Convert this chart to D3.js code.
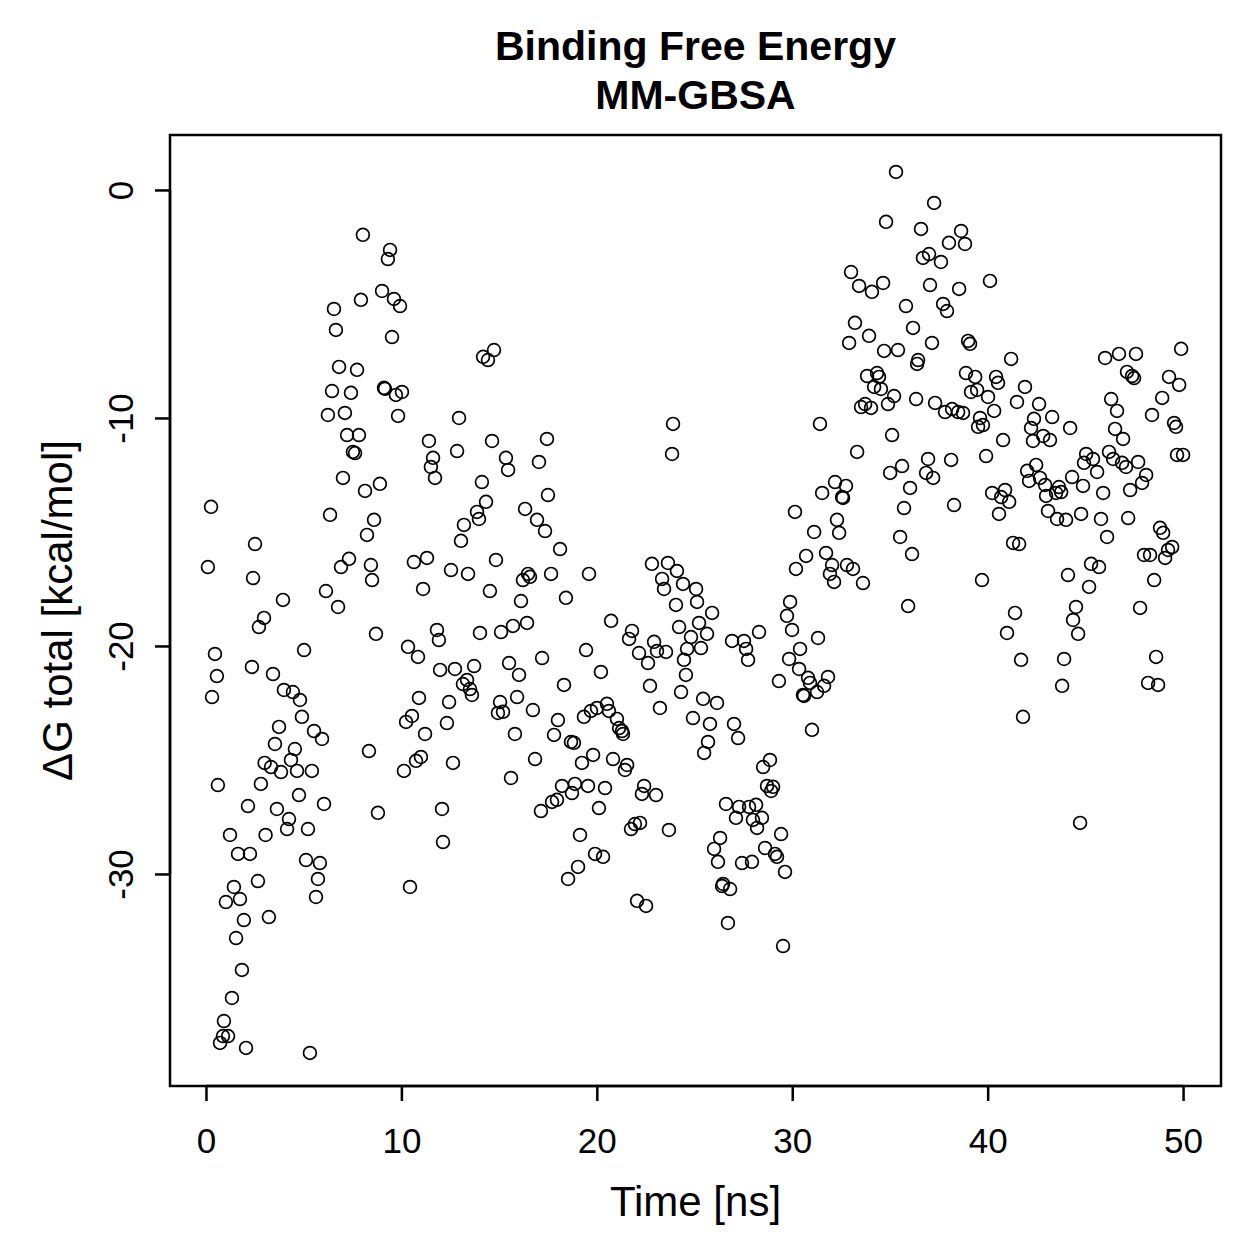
<!DOCTYPE html>
<html><head><meta charset="utf-8">
<script src="https://cdn.jsdelivr.net/npm/d3@7"></script>
<style>body{margin:0;background:#fff}svg{display:block}text{font-family:"Liberation Sans",Arial,Helvetica,sans-serif}</style>
</head><body><svg id="c" width="1259" height="1259"></svg>
<script>
const titleLines = ["Binding Free Energy", "MM-GBSA"];
const xLabel = "Time [ns]";
const yLabel = "ΔG total [kcal/mol]";
const xTicks = [0, 10, 20, 30, 40, 50];
const yTicks = [0, -10, -20, -30];

const time = [
0.10,0.26,0.31,0.46,0.56,0.61,0.72,0.87,0.92,1.02,1.13,1.23,1.33,1.43,1.54,1.64,1.74,1.84,1.94,2.05,2.15,2.25,2.35,2.41,2.51,2.66,2.71,2.81,2.97,3.00,3.05,
3.22,3.33,3.43,3.53,3.63,3.74,3.84,3.94,3.99,4.15,4.25,4.35,4.45,4.55,4.66,4.76,4.81,4.91,5.02,5.12,5.22,5.32,5.42,5.53,5.63,5.73,5.83,5.94,6.04,6.14,6.24,6.35,
6.45,6.55,6.65,6.76,6.81,6.91,7.01,7.11,7.22,7.32,7.42,7.52,7.63,7.73,7.83,7.93,8.03,8.14,8.24,8.34,8.44,8.50,8.60,8.70,8.80,8.90,9.01,9.11,9.16,9.31,9.42,9.52,9.62,9.72,9.83,9.93,
10.03,10.13,10.24,10.34,10.44,10.54,10.64,10.75,10.85,10.90,11.00,11.11,11.21,11.31,11.41,11.51,11.62,11.72,11.82,11.92,11.98,12.08,12.13,12.33,12.44,12.54,12.64,12.74,12.85,12.95,
13.05,13.15,13.20,13.36,13.41,13.51,13.61,13.72,13.87,13.97,14.02,14.12,14.18,14.33,14.43,14.53,14.64,14.74,14.84,14.94,15.05,15.10,15.20,15.35,15.46,15.51,15.61,15.71,15.81,15.92,16.02,
16.12,16.22,16.33,16.43,16.48,16.58,16.73,16.84,16.94,17.04,17.14,17.20,17.35,17.45,17.50,17.66,17.71,17.81,17.96,18.01,18.12,18.22,18.32,18.42,18.53,18.68,18.73,18.83,18.88,19.04,19.14,19.24,19.34,19.45,19.55,19.60,
19.70,19.81,19.91,20.01,20.11,20.21,20.32,20.42,20.52,20.62,20.73,20.83,21.03,21.14,21.29,21.34,21.44,21.55,21.65,21.75,21.80,21.95,22.06,22.16,22.21,22.31,22.42,22.52,22.62,22.72,22.82,22.93,23.03,23.08,23.23,23.34,23.44,23.54,23.64,23.69,23.85,23.90,24.05,24.10,24.21,24.31,24.41,24.46,24.56,24.62,
24.82,24.92,25.08,25.13,25.23,25.33,25.44,25.49,25.64,25.69,25.79,25.90,26.00,26.15,26.20,26.31,26.41,26.46,26.61,26.71,26.82,26.92,27.02,27.12,27.23,27.28,27.43,27.53,27.64,27.74,27.79,27.94,27.99,28.15,28.20,28.30,28.45,28.51,28.61,28.71,28.86,28.92,29.02,29.12,29.22,29.32,
29.43,29.53,29.63,29.73,29.84,29.89,29.99,30.14,30.19,30.35,30.40,30.55,30.60,30.71,30.81,30.91,31.01,31.12,31.27,31.32,31.42,31.53,31.63,31.73,31.83,31.93,32.04,32.14,32.19,32.29,32.40,32.55,32.60,32.75,32.80,32.91,33.01,33.11,33.21,33.32,33.42,
33.52,33.62,33.73,33.83,33.93,34.03,34.08,34.19,34.34,34.44,34.54,34.65,34.70,34.80,34.90,35.01,35.11,35.21,35.31,35.41,35.52,35.62,35.72,35.82,35.93,36.03,36.13,36.18,36.34,36.39,36.44,36.59,36.69,36.85,36.95,37.00,37.05,37.15,37.21,37.26,37.31,
37.61,37.72,37.82,37.92,38.02,38.13,38.18,38.28,38.49,38.54,38.64,38.74,38.84,38.89,39.00,39.10,39.15,39.36,39.46,39.51,39.61,39.71,39.76,39.92,40.02,40.12,40.23,40.33,40.43,40.53,40.58,40.69,40.79,40.89,40.99,41.10,
41.20,41.30,41.40,41.50,41.61,41.71,41.81,41.91,42.02,42.12,42.22,42.32,42.37,42.48,42.63,42.68,42.84,42.94,42.99,43.09,43.19,43.30,43.50,43.55,43.65,43.76,43.81,43.91,44.01,44.11,44.22,44.32,44.37,44.52,44.63,44.73,44.78,44.88,44.93,45.04,45.19,
45.29,45.39,45.60,45.70,45.80,45.91,46.01,46.11,46.21,46.32,46.42,46.52,46.62,46.72,46.88,46.93,47.08,47.13,47.19,47.29,47.39,47.49,47.59,47.70,47.80,47.90,48.00,48.11,48.21,48.31,48.41,48.52,48.62,48.72,48.82,48.93,48.98,49.08,49.23,49.28,49.44,49.54,49.64,49.69,49.80,49.90,50.00
];
const deltaG = [
-16.54,-13.90,-22.24,-20.35,-21.32,-26.10,-37.41,-37.11,-36.45,-31.23,-37.11,-28.29,-35.44,-30.57,-32.81,-29.12,-31.10,-34.21,-32.02,-37.63,-27.02,-29.12,-20.92,-17.02,-15.53,-30.31,-19.17,-26.05,-18.77,-25.13,-28.29,
-31.89,-25.31,-21.23,-24.30,-27.15,-23.55,-25.53,-17.98,-21.93,-28.03,-27.59,-25.00,-22.02,-24.52,-25.48,-26.54,-22.37,-23.11,-20.18,-29.39,-28.03,-37.85,-25.48,-23.73,-31.01,-30.22,-29.52,-24.08,-26.93,-17.59,-9.87,-14.25,
-8.82,-5.22,-6.14,-18.29,-7.76,-16.54,-12.63,-9.78,-10.75,-16.18,-8.90,-11.49,-11.54,-7.89,-10.75,-4.82,-1.97,-13.20,-15.13,-24.61,-16.45,-17.11,-14.47,-19.47,-27.32,-12.89,-4.43,-8.68,-8.72,-3.03,-2.63,-6.45,-4.78,-8.99,-9.91,-5.09,
-8.86,-25.48,-23.33,-20.04,-30.57,-23.07,-16.32,-25.04,-20.48,-22.28,-24.87,-17.50,-23.86,-16.14,-11.01,-12.15,-11.75,-12.63,-19.30,-19.74,-21.05,-27.15,-28.60,-23.38,-22.46,-16.67,-25.13,-21.01,-11.45,-10.00,
-15.39,-21.67,-14.69,-21.49,-16.84,-21.89,-22.15,-20.88,-14.12,-14.43,-19.43,-12.81,-7.32,-13.68,-7.46,-17.59,-11.01,-7.02,-16.23,-22.94,-22.46,-19.39,-22.89,-11.75,-12.28,-20.75,-25.79,-19.12,-23.86,-22.24,-21.27,
-18.03,-17.11,-13.99,-18.99,-16.84,-16.97,-22.81,-24.96,-14.47,-11.93,-27.24,-20.53,-14.96,-10.92,-13.38,-16.84,-26.84,-23.90,-26.75,-23.25,-15.75,-26.14,-21.71,-17.89,-30.22,-24.21,-26.45,-24.25,-26.05,-29.69,-28.29,-25.13,-23.11,-20.18,-26.14,-16.84,
-22.85,-24.78,-29.12,-22.72,-27.11,-21.14,-29.25,-26.23,-22.54,-22.85,-18.90,-24.96,-23.20,-23.60,-23.73,-23.86,-25.44,-25.22,-19.69,-28.03,-19.34,-27.81,-31.18,-20.31,-27.76,-26.49,-26.14,-31.40,-20.75,-21.75,-16.40,-19.82,-26.54,-20.22,-22.72,-17.06,-17.50,-20.26,-16.36,-28.07,-11.58,-10.26,-18.20,-16.71,-19.17,-22.02,-17.28,-20.61,-21.27,-20.13,
-19.61,-23.16,-17.50,-18.07,-18.99,-20.09,-22.32,-24.69,-19.47,-24.21,-23.42,-18.55,-28.90,-22.50,-29.47,-28.42,-30.53,-30.44,-26.93,-32.15,-30.66,-19.78,-23.42,-27.54,-24.04,-27.06,-29.52,-19.78,-20.13,-20.61,-27.06,-29.47,-27.63,-26.97,-27.98,-19.39,-27.54,-25.31,-28.86,-26.14,-25.00,-26.36,-26.18,-29.12,-29.25,-21.54,
-28.25,-33.16,-29.91,-18.68,-20.57,-18.07,-19.30,-14.12,-16.62,-21.01,-20.13,-22.15,-22.19,-16.05,-21.40,-21.62,-23.68,-15.00,-22.02,-19.65,-10.26,-13.29,-21.75,-15.92,-21.36,-16.84,-16.45,-17.19,-12.81,-14.47,-15.04,-13.47,-13.51,-12.98,-16.45,-6.71,-3.60,-16.62,-5.83,-11.49,-4.21,
-9.52,-17.24,-9.39,-8.16,-6.40,-9.56,-4.47,-8.64,-8.03,-8.20,-8.73,-4.08,-7.06,-1.40,-9.39,-12.41,-10.75,-9.04,0.79,-7.02,-15.22,-12.11,-13.95,-5.09,-18.25,-13.07,-15.97,-6.05,-9.17,-7.63,-7.46,-1.71,-2.98,-12.41,-11.80,-2.81,-4.17,-6.71,-12.63,-0.57,-9.34,
-3.16,-5.00,-9.74,-5.31,-2.32,-11.84,-9.61,-13.82,-9.74,-4.34,-1.80,-9.78,-2.37,-8.03,-6.62,-6.75,-8.86,-8.20,-8.77,-10.39,-10.00,-17.11,-10.31,-11.67,-9.08,-3.99,-13.29,-9.69,-8.20,-8.46,-14.21,-13.47,-10.97,-13.16,-19.43,-13.68,
-7.41,-15.48,-18.55,-9.30,-15.53,-20.61,-23.11,-8.64,-12.32,-12.76,-10.44,-11.01,-10.04,-12.06,-9.39,-12.63,-10.79,-12.94,-13.42,-14.08,-10.97,-9.96,-13.29,-14.43,-13.03,-13.25,-21.75,-20.57,-14.47,-16.89,-10.44,-12.59,-18.86,-18.29,-19.47,-27.76,-14.21,-12.98,-11.97,-11.58,-17.41,
-16.40,-11.80,-12.37,-16.54,-14.43,-13.29,-7.37,-15.22,-11.49,-9.17,-11.80,-10.48,-9.69,-7.19,-11.97,-10.92,-12.15,-7.98,-14.39,-13.16,-8.16,-8.25,-7.19,-11.93,-18.33,-12.85,-16.01,-12.50,-21.62,-16.01,-9.87,-17.11,-20.48,-21.71,-14.82,-9.12,-15.04,-16.14,-15.79,-8.20,-15.66,-10.22,-10.39,-11.62,-8.55,-6.97,-11.62
];

const svg = d3.select("#c");
svg.append("rect").attr("width",1259).attr("height",1259).attr("fill","#fff");
const L=170,R=1221,T=135,B=1086;
const x = d3.scaleLinear().domain([-1.84, 51.94]).range([L, R]);
const y = d3.scaleLinear().domain([-39.30, 2.41]).range([B, T]);

const pts = time.map((t,i)=>({t, g: deltaG[i]}));
svg.append("g").selectAll("circle").data(pts).join("circle")
  .attr("cx", d=>x(d.t)).attr("cy", d=>y(d.g)).attr("r", 6.4)
  .attr("fill","none").attr("stroke","#000").attr("stroke-width",1.7);

svg.append("rect").attr("x",L).attr("y",T).attr("width",R-L).attr("height",B-T)
  .attr("fill","none").attr("stroke","#000").attr("stroke-width",2.5);

const xa = svg.append("g").attr("transform",`translate(0,${B})`)
  .call(d3.axisBottom(x).tickValues(xTicks).tickSize(15).tickSizeOuter(0).tickPadding(0).tickFormat(d3.format("d")));
xa.select(".domain").attr("d",`M${x(0)},0H${x(50)}`).attr("stroke-width",2.5);
xa.selectAll(".tick line").attr("stroke-width",2.5);
xa.selectAll(".tick text").attr("font-size",35).attr("fill","#000").attr("dy",null).attr("y",67)
  .style("font-family","'Liberation Sans',Arial,sans-serif");

const ya = svg.append("g").attr("transform",`translate(${L},0)`)
  .call(d3.axisLeft(y).tickValues(yTicks).tickSize(15).tickSizeOuter(0).tickFormat(d3.format("d")));
ya.select(".domain").attr("d",`M0,${y(-30)}V${y(0)}`).attr("stroke-width",2.5);
ya.selectAll(".tick line").attr("stroke-width",2.5);
ya.selectAll(".tick text").attr("font-size",35).attr("fill","#000")
  .attr("x",0).attr("y",-37).attr("dy",null).attr("text-anchor","middle")
  .attr("transform","rotate(-90)").text(d=>String(d).replace("−","-"))
  .style("font-family","'Liberation Sans',Arial,sans-serif");

svg.append("text").attr("x",(L+R)/2).attr("y",60).attr("text-anchor","middle")
  .attr("font-size",41).attr("font-weight","bold").text(titleLines[0]);
svg.append("text").attr("x",(L+R)/2).attr("y",109).attr("text-anchor","middle")
  .attr("font-size",41).attr("font-weight","bold").text(titleLines[1]);
svg.append("text").attr("x",(L+R)/2).attr("y",1216).attr("text-anchor","middle")
  .attr("font-size",42).text(xLabel);
svg.append("text").attr("transform",`translate(72,${(T+B)/2}) rotate(-90)`).attr("text-anchor","middle")
  .attr("font-size",42).text(yLabel);
</script></body></html>
